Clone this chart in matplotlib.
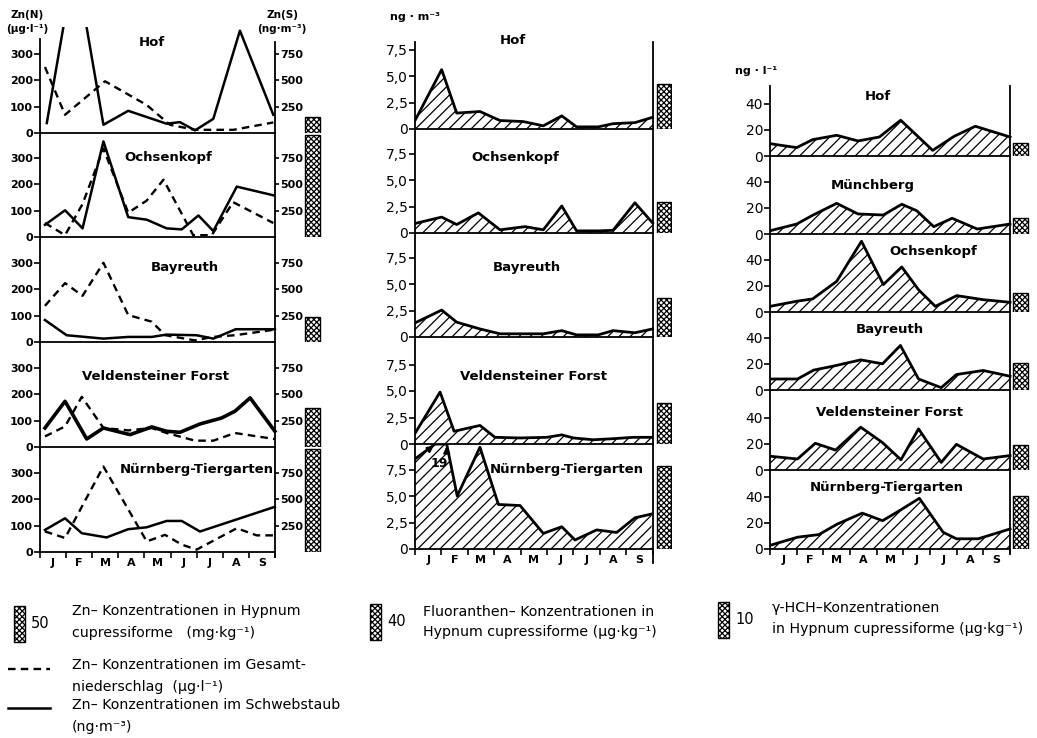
import numpy as np
import matplotlib
matplotlib.use('Agg')
import matplotlib.pyplot as plt
from matplotlib.patches import Rectangle
from matplotlib.lines import Line2D

plt.rcParams['font.family'] = ['DejaVu Sans']
plt.rcParams['hatch.linewidth'] = 0.9
plt.rcParams['axes.linewidth'] = 1.3

W, H = 1037, 738
months = ['J', 'F', 'M', 'A', 'M', 'J', 'J', 'A', 'S']

# ---- Zn, left column ----
zn_sites = ['Hof', 'Ochsenkopf', 'Bayreuth', 'Veldensteiner Forst', 'Nürnberg-Tiergarten']
# Gesamtniederschlag (dashed), ug/l, x in months from Jan 1
zn_n_x = [[0.19, 0.96, 2.49, 4.09, 4.98, 5.94, 7.41, 8.94],
          [0.19, 0.96, 1.63, 2.43, 3.38, 4.09, 4.73, 5.87, 6.58, 7.4, 8.94],
          [0.19, 0.96, 1.63, 2.43, 3.38, 4.28, 4.79, 5.94, 6.6, 7.5, 9.0],
          [0.19, 0.96, 1.6, 2.43, 3.38, 4.28, 4.85, 5.94, 6.64, 7.47, 9.0],
          [0.19, 0.96, 2.43, 4.09, 4.79, 5.43, 6.0, 7.54, 8.3, 9.0]]
zn_n = [[250, 69, 196, 106, 31, 12, 12, 40],
        [53, 7, 125, 335, 92, 138, 217, 7, 7, 132, 53],
        [137, 223, 175, 300, 102, 77, 26, 6, 19, 26, 47],
        [40, 78, 190, 72, 63, 72, 53, 24, 24, 53, 30],
        [78, 53, 324, 40, 65, 28, 9, 90, 63, 63]]
# Schwebstaub (solid), ng/m3
zn_s_x = [[0.26, 1.34, 2.43, 3.38, 4.85, 5.36, 5.94, 6.64, 7.66, 8.94],
          [0.19, 0.96, 1.63, 2.43, 3.38, 4.09, 4.85, 5.43, 6.07, 6.64, 7.54, 8.94],
          [0.19, 1.02, 2.43, 3.38, 4.28, 4.85, 6.0, 6.64, 7.5, 9.0],
          [0.19, 0.96, 1.79, 2.43, 3.45, 4.28, 4.85, 5.36, 6.13, 6.96, 7.47, 8.05, 9.0],
          [0.19, 0.96, 1.6, 2.55, 3.38, 4.09, 4.85, 5.43, 6.13, 9.0]]
zn_s = [[94, 1640, 78, 210, 88, 103, 25, 134, 969, 172],
        [115, 253, 82, 905, 188, 164, 82, 72, 204, 56, 477, 395],
        [208, 64, 32, 48, 48, 70, 64, 32, 121, 121],
        [180, 433, 76, 180, 117, 190, 149, 139, 218, 275, 339, 465, 149],
        [209, 319, 178, 138, 216, 234, 294, 294, 194, 428]]
zn_moss = [22, 142, 35, 54, 143]          # mg/kg

# ---- Fluoranthen, middle column (ng/m3) ----
fl_sites = ['Hof', 'Ochsenkopf', 'Bayreuth', 'Veldensteiner Forst', 'Nürnberg-Tiergarten']
fl_x = [[0, 1.01, 1.58, 2.46, 3.22, 4.1, 4.86, 5.56, 6.12, 6.94, 7.5, 8.33, 9.0],
        [0, 1.01, 1.58, 2.4, 3.22, 4.17, 4.86, 5.56, 6.12, 6.94, 7.5, 8.33, 9.0],
        [0, 1.01, 1.58, 2.46, 3.22, 4.1, 4.86, 5.56, 6.12, 6.94, 7.5, 8.33, 9.0],
        [0, 0.95, 1.48, 2.46, 3.03, 3.98, 4.99, 5.56, 6.0, 6.75, 7.5, 8.27, 8.96],
        [0, 0.76, 1.2, 1.6, 2.46, 3.16, 3.98, 4.86, 5.56, 6.06, 6.88, 7.64, 8.33, 8.96]]
fl = [[0.8, 5.6, 1.5, 1.65, 0.8, 0.7, 0.3, 1.24, 0.2, 0.2, 0.5, 0.6, 1.1],
      [0.9, 1.5, 0.8, 1.9, 0.3, 0.6, 0.3, 2.55, 0.2, 0.2, 0.25, 2.85, 0.95],
      [1.33, 2.54, 1.4, 0.76, 0.3, 0.3, 0.3, 0.6, 0.2, 0.2, 0.6, 0.4, 0.76],
      [1.0, 4.9, 1.2, 1.75, 0.63, 0.57, 0.63, 0.86, 0.57, 0.4, 0.5, 0.63, 0.63],
      [8.5, 9.9, 9.9, 5.0, 9.6, 4.2, 4.1, 1.47, 2.1, 0.85, 1.8, 1.56, 2.94, 3.3]]
fl_offscale = 19
fl_moss = [50, 34, 43, 46, 92]            # ug/kg

# ---- gamma-HCH, right column (ng/l) ----
hch_sites = ['Hof', 'Münchberg', 'Ochsenkopf', 'Bayreuth', 'Veldensteiner Forst',
             'Nürnberg-Tiergarten']
hch_x = [[0, 1.0, 1.6, 2.5, 3.3, 4.1, 4.9, 6.1, 6.9, 7.7, 9.0],
         [0, 1.0, 1.6, 2.5, 3.3, 4.25, 4.94, 5.5, 6.14, 6.83, 7.77, 9.0],
         [0, 1.0, 1.6, 2.5, 3.43, 4.25, 4.94, 5.57, 6.2, 7.0, 8.0, 9.0],
         [0, 1.03, 1.64, 2.39, 3.4, 4.22, 4.89, 5.57, 6.42, 6.99, 7.99, 9.0],
         [0, 1.03, 1.7, 2.46, 3.4, 4.22, 4.91, 5.57, 6.42, 6.99, 7.99, 9.0],
         [0, 1.03, 1.83, 2.52, 3.46, 4.22, 4.85, 5.6, 6.49, 6.99, 7.81, 9.0]]
hch = [[9.4, 6.4, 12.5, 15.8, 11.5, 14.5, 27.3, 4.3, 15, 22.7, 14.5],
       [2.5, 7.6, 14.3, 23.4, 15.3, 14.5, 22.7, 17.8, 5.6, 12, 3.8, 7.6],
       [4.3, 8.2, 10, 23.4, 54, 20.9, 34.4, 17, 4.3, 12.5, 9.4, 7.4],
       [8.4, 8.4, 15.2, 18.3, 23, 20, 34, 8.4, 1.8, 11.8, 14.9, 10.5],
       [10.5, 8.4, 20.4, 15.2, 32.7, 20.9, 7.8, 31.4, 5.8, 19.6, 8.4, 11],
       [2.8, 9, 11, 19, 27.4, 21.6, 29.2, 38.7, 12.8, 7.8, 7.8, 15.3]]
hch_moss = [3.6, 4.4, 5.3, 7.5, 6.9, 14.7]  # ug/kg

# ---- layout (pixels) ----
left_rows = [(27, 133), (133, 237), (237, 342), (342, 447), (447, 552)]
mid_rows = [(30, 129), (129, 233), (233, 337), (337, 444), (444, 549)]
right_rows = [(78, 156), (156, 234), (234, 312), (312, 390), (390, 470), (470, 549)]
left_titles = [(152, 43), (168, 158), (185, 267), (155, 377), (197, 470)]
mid_titles = [(513, 40), (515, 157), (527, 267), (533, 376), (567, 470)]
right_titles = [(878, 97), (873, 186), (933, 251), (890, 330), (890, 413), (887, 487)]
moss_px = [0.72, 0.9, 3.6]   # legend bar pixels per moss unit
MOSS_HATCH = 'xxxxxx'

fig = plt.figure(figsize=(W / 100, H / 100), dpi=100)

lax = fig.add_axes([0, 0, 1, 1])
lax.set_xlim(0, W)
lax.set_ylim(H, 0)
lax.axis('off')


def px_axes(x0, y0, x1, y1):
    return fig.add_axes([x0 / W, 1 - y1 / H, (x1 - x0) / W, (y1 - y0) / H])


def frame(ax, xmax, ytop, spine_top, ticks, labels, last):
    ax.set_xlim(0, xmax)
    ax.set_ylim(0, ytop)
    ax.patch.set_visible(False)
    ax.spines['top'].set_visible(False)
    ax.spines['bottom'].set_bounds(0, 9)
    ax.spines['left'].set_bounds(0, spine_top)
    ax.set_yticks(ticks, labels, fontweight='bold', fontsize=8)
    ax.tick_params(axis='y', direction='out', length=4, width=1.2, pad=1)
    if last:
        ax.set_xticks(range(10))
        ax.set_xticks(np.arange(9) + 0.5, months, minor=True, fontweight='bold', fontsize=8)
        ax.tick_params(axis='x', which='major', length=4, width=1.2, labelbottom=False)
        ax.tick_params(axis='x', which='minor', length=0, pad=4)
    else:
        ax.tick_params(axis='x', which='both', bottom=False, labelbottom=False)


def title(px, text):
    fig.text(px[0] / W, 1 - px[1] / H, text, ha='center', va='center',
             fontsize=9.5, fontweight='bold')


# ---- left column ----
ZN_PX, ZN_M = 0.264, 26.1
for i, (top, bot) in enumerate(left_rows):
    last = i == len(left_rows) - 1
    ax = px_axes(40, top, 40 + 10.8 * ZN_M, bot)
    ytop = (bot - top) / ZN_PX
    stop = (bot - 39) / ZN_PX if i == 0 else ytop
    frame(ax, 10.8, ytop, stop, [0, 100, 200, 300], ['0', '100', '200', '300'], last)
    ax.spines['right'].set_visible(False)
    ax.plot(zn_n_x[i], zn_n[i], color='black', lw=1.7, ls=(0, (3.2, 2.2)))
    ax.bar(10.44, zn_moss[i] * moss_px[0] / ZN_PX, width=0.57, facecolor='white',
           edgecolor='black', hatch=MOSS_HATCH, linewidth=1.0)
    ax2 = ax.twinx()
    ax2.set_ylim(0, ytop * 2.5)
    for s in ['top', 'left', 'bottom']:
        ax2.spines[s].set_visible(False)
    ax2.spines['right'].set_position(('data', 9))
    rtop = (bot - 42) / ZN_PX * 2.5 if i == 0 else ytop * 2.5
    ax2.spines['right'].set_bounds(-5 / ZN_PX * 2.5 if last else 0, rtop)
    ax2.set_yticks([250, 500, 750], ['250', '500', '750'], fontweight='bold', fontsize=8)
    ax2.tick_params(axis='y', direction='out', length=3, width=1.2, pad=1)
    ax2.plot(zn_s_x[i], zn_s[i], color='black', lw=1.8 if i != 3 else 2.6)
    title(left_titles[i], zn_sites[i])

fig.text(27 / W, 1 - 15 / H, 'Zn(N)', ha='center', va='center', fontsize=7.5, fontweight='bold')
fig.text(27 / W, 1 - 29 / H, '(µg·l⁻¹)', ha='center', va='center', fontsize=7.5, fontweight='bold')
fig.text(282 / W, 1 - 15 / H, 'Zn(S)', ha='center', va='center', fontsize=7.5, fontweight='bold')
fig.text(282 / W, 1 - 29 / H, '(ng·m⁻³)', ha='center', va='center', fontsize=7.5, fontweight='bold')


def area_column(rows, x0, mpx, upx, spine_px, xs, ys, moss, mpx_moss, bar_x, bar_w,
                ticks, labels, titles, sites, ext):
    axes = []
    for i, (top, bot) in enumerate(rows):
        last = i == len(rows) - 1
        ax = px_axes(x0, top, x0 + 9.75 * mpx, bot)
        ytop = (bot - top) / upx
        stop = (bot - spine_px) / upx if i == 0 else ytop
        frame(ax, 9.75, ytop, stop, ticks, labels, last)
        ax.spines['right'].set_position(('data', 9))
        ax.spines['right'].set_bounds(-ext / upx if last else 0, stop)
        ax.fill_between(xs[i], 0, ys[i], facecolor='white', edgecolor='black',
                        hatch='///', linewidth=0)
        ax.plot(xs[i], ys[i], color='black', lw=2.0)
        ax.bar(bar_x, moss[i] * mpx_moss / upx, width=bar_w, facecolor='white',
               edgecolor='black', hatch=MOSS_HATCH, linewidth=1.0)
        title(titles[i], sites[i])
        axes.append(ax)
    return axes


FL_PX = 10.6
mid_axes = area_column(mid_rows, 415, 26.4, FL_PX, 42, fl_x, fl, fl_moss, moss_px[1],
                       9.43, 0.53, [0, 2.5, 5, 7.5], ['0', '2,5', '5,0', '7,5'],
                       mid_titles, fl_sites, 14)
HCH_PX = 1.31
area_column(right_rows, 770, 26.67, HCH_PX, 86, hch_x, hch, hch_moss, moss_px[2],
            9.39, 0.56, [0, 20, 40], ['0', '20', '40'], right_titles, hch_sites, 4)

# off-scale peak at Nürnberg-Tiergarten (Fluoranthen)
axn = mid_axes[-1]
ntop = axn.get_ylim()[1]
axn.annotate('', xy=(0.8, ntop), xytext=(0.55, 9.45),
             arrowprops=dict(arrowstyle='-|>', color='black', lw=1.5, mutation_scale=9),
             annotation_clip=False)
axn.annotate('', xy=(1.2, ntop + 0.05), xytext=(1.2, 9.0),
             arrowprops=dict(arrowstyle='-|>', color='black', lw=1.5, mutation_scale=9),
             annotation_clip=False)
axn.text(0.91, 8.1, str(fl_offscale), ha='center', va='center', fontsize=9, fontweight='bold')

fig.text(390 / W, 1 - 17 / H, 'ng · m⁻³', ha='left', va='center', fontsize=8, fontweight='bold')
fig.text(735 / W, 1 - 71 / H, 'ng · l⁻¹', ha='left', va='center', fontsize=8, fontweight='bold')

# ---- legend ----
legend_bars = [(14, 624, '50'), (370, 622, '40'), (718, 620, '10')]
legend_values = [50, 40, 10]
for (bx, by, txt), val, ppx in zip(legend_bars, legend_values, moss_px):
    h = val * ppx
    lax.add_patch(Rectangle((bx, by - h / 2), 11, h, facecolor='white', edgecolor='black',
                            hatch=MOSS_HATCH, linewidth=1.0))
    lax.text(bx + 17, by, txt, ha='left', va='center', fontsize=10.5)

legend_text = [(72, 611, 'Zn– Konzentrationen in Hypnum'),
               (72, 633, 'cupressiforme   (mg·kg⁻¹)'),
               (72, 665, 'Zn– Konzentrationen im Gesamt-'),
               (72, 687, 'niederschlag  (µg·l⁻¹)'),
               (72, 705, 'Zn– Konzentrationen im Schwebstaub'),
               (72, 727, '(ng·m⁻³)'),
               (423, 612, 'Fluoranthen– Konzentrationen in'),
               (423, 632, 'Hypnum cupressiforme (µg·kg⁻¹)'),
               (772, 608, 'γ-HCH–Konzentrationen'),
               (772, 629, 'in Hypnum cupressiforme (µg·kg⁻¹)')]
for tx, ty, t in legend_text:
    lax.text(tx, ty, t, ha='left', va='center', fontsize=10.2)
lax.add_line(Line2D([8, 50], [669, 669], color='black', lw=1.7, ls=(0, (3.2, 2.2))))
lax.add_line(Line2D([8, 50], [708, 708], color='black', lw=1.8))

fig.savefig('out.png', dpi=100)
